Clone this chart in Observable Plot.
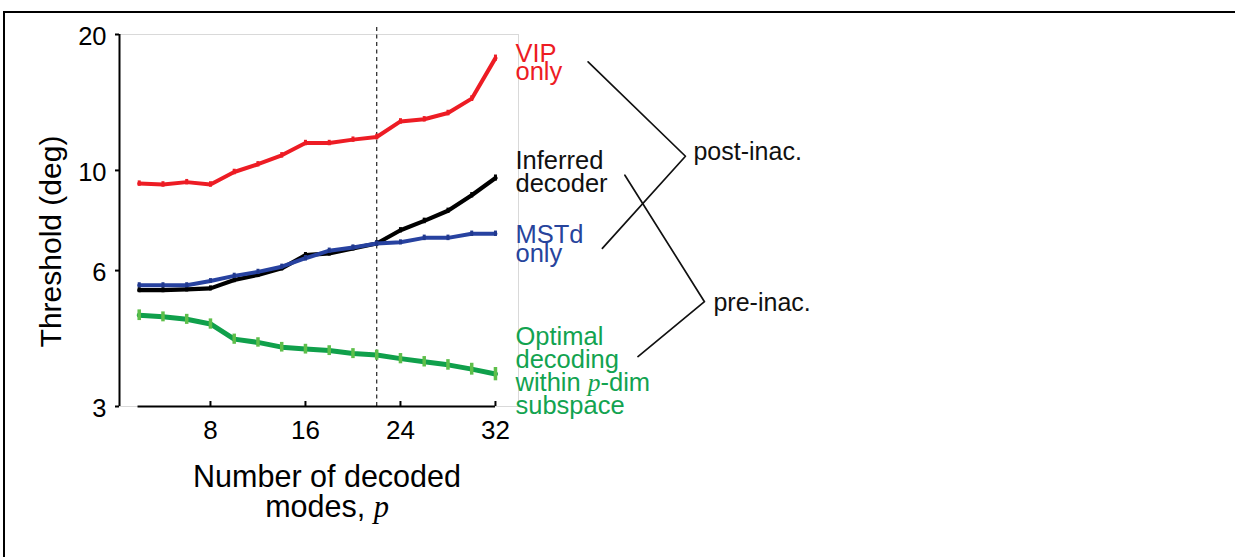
<!DOCTYPE html>
<html>
<head>
<meta charset="utf-8">
<script src="https://cdn.jsdelivr.net/npm/d3@7"></script>
<script src="https://cdn.jsdelivr.net/npm/@observablehq/plot@0.6"></script>
<style>
  html, body { margin: 0; padding: 0; background: #fff; overflow: hidden; }
  #page { position: relative; width: 1235px; height: 557px; }
  #chart { position: absolute; left: 0; top: 0; }
  #border {
    position: absolute; left: 3px; top: 11px; width: 1300px; height: 600px;
    border-top: 2px solid #000; border-left: 2px solid #000; pointer-events: none;
  }
</style>
</head>
<body>
<div id="page"><div id="chart"></div><div id="border"></div></div>
<script>
// Number of decoded modes p
const modes = [2, 4, 6, 8, 10, 12, 14, 16, 18, 20, 22, 24, 26, 28, 30, 32];

// Discrimination thresholds (deg), one value per p
const vipOnly  = [9.35, 9.31, 9.42, 9.31, 9.92, 10.32, 10.80, 11.50, 11.50, 11.70, 11.86, 12.84, 12.98, 13.40, 14.42, 17.73];
const inferred = [5.43, 5.43, 5.45, 5.48, 5.72, 5.87, 6.07, 6.49, 6.55, 6.72, 6.89, 7.37, 7.73, 8.14, 8.81, 9.62];
const mstdOnly = [5.57, 5.57, 5.57, 5.69, 5.84, 5.96, 6.12, 6.39, 6.64, 6.75, 6.89, 6.93, 7.09, 7.09, 7.24, 7.24];
const optimal  = [4.78, 4.74, 4.68, 4.57, 4.23, 4.16, 4.06, 4.02, 3.99, 3.93, 3.90, 3.83, 3.77, 3.71, 3.63, 3.54];

// Half-widths of the error bars (deg)
const vipErr      = [0.13, 0.13, 0.13, 0.13, 0.14, 0.14, 0.15, 0.16, 0.16, 0.16, 0.17, 0.18, 0.18, 0.19, 0.21, 0.28];
const inferredErr = [0.07, 0.07, 0.07, 0.07, 0.08, 0.08, 0.08, 0.09, 0.09, 0.09, 0.10, 0.10, 0.11, 0.11, 0.12, 0.15];
const mstdErr     = [0.07, 0.07, 0.07, 0.07, 0.08, 0.08, 0.08, 0.09, 0.09, 0.09, 0.09, 0.09, 0.10, 0.10, 0.10, 0.10];
const optimalErr  = [0.13, 0.12, 0.12, 0.12, 0.11, 0.10, 0.10, 0.10, 0.10, 0.10, 0.10, 0.10, 0.10, 0.10, 0.11, 0.12];

// Series labels
const names = ["VIP\nonly", "Inferred\ndecoder", "MSTd\nonly", "Optimal\ndecoding\nwithin p-dim\nsubspace"];

// Axis ticks and limits
const xTicks = [8, 16, 24, 32];
const yTicks = [3, 6, 10, 20];
const xLim = [0.34, 33.94];
const yLim = [3, 20];
const inactivationBoundary = 22;

// Bracket annotations grouping the conditions (p, deg)
const postBracket = [{p: 39.8, v: 17.4}, {p: 48.0, v: 10.75}, {p: 41.0, v: 6.72}];
const preBracket  = [{p: 42.9, v: 9.76}, {p: 49.6, v: 5.12}, {p: 44.0, v: 3.87}];

const rows = (values, errs) => modes.map((p, i) => ({p, v: values[i], lo: values[i] - errs[i], hi: values[i] + errs[i]}));
const lastOf = (values, label) => [{p: modes[modes.length - 1], v: values[values.length - 1], label}];

const RED = "#ed1c24", BLACK = "#000000", BLUE = "#2742a0", GREEN = "#10a04b", LIGHTGREEN = "#5ebf4a";
const SANS = "'Liberation Sans', Arial, Helvetica, sans-serif";

const vip = rows(vipOnly, vipErr);
const inf = rows(inferred, inferredErr);
const mst = rows(mstdOnly, mstdErr);
const opt = rows(optimal, optimalErr);

const chart = Plot.plot({
  width: 1235,
  height: 557,
  marginLeft: 119,
  marginRight: 717,
  marginTop: 34,
  marginBottom: 151,
  style: {fontFamily: SANS, background: "transparent", color: "#000", overflow: "visible"},
  x: {type: "linear", domain: xLim, label: null},
  y: {type: "log", domain: yLim, label: null},
  marks: [
    Plot.frame({stroke: "#d9d9d9", strokeWidth: 1}),
    Plot.ruleX([inactivationBoundary], {y1: 3, y2: 20.8, stroke: "#222", strokeWidth: 1.2, strokeDasharray: "4,3.5"}),

    // axes
    Plot.ruleX([xLim[0]], {y1: yLim[0], y2: yLim[1], stroke: "#000", strokeWidth: 2}),
    Plot.ruleY([yLim[0]], {x1: 1.9, x2: 32, stroke: "#000", strokeWidth: 2}),
    Plot.ruleX(xTicks, {y1: yLim[0], y2: yLim[0], insetTop: -5, stroke: "#000", strokeWidth: 2}),
    Plot.axisY({ticks: yTicks, tickSize: 4, strokeWidth: 2, tickFormat: () => "", label: null}),
    Plot.axisY({ticks: yTicks, tickSize: 0, tickPadding: 13, dy: 2, fontSize: 25.5, tickFormat: (d) => String(d), label: null}),
    Plot.axisX({ticks: xTicks, tickSize: 0, tickPadding: 14, fontSize: 26, tickFormat: (d) => String(d), label: null}),
    Plot.text(["Threshold (deg)"], {text: (d) => d, frameAnchor: "left", rotate: -90, dx: -68, dy: 21, fontSize: 30, textAnchor: "middle"}),
    Plot.text(["Number of decoded\nmodes, p"], {text: (d) => d, frameAnchor: "bottom", lineAnchor: "bottom", lineHeight: 1, dx: 8, dy: 110.7, fontSize: 30.5, textAnchor: "middle"}),

    // series
    Plot.line(vip, {x: "p", y: "v", stroke: RED, strokeWidth: 4, strokeLinejoin: "round"}),
    Plot.ruleX(vip, {x: "p", y1: "lo", y2: "hi", stroke: RED, strokeWidth: 3}),
    Plot.line(inf, {x: "p", y: "v", stroke: BLACK, strokeWidth: 4.2, strokeLinejoin: "round"}),
    Plot.ruleX(inf, {x: "p", y1: "lo", y2: "hi", stroke: BLACK, strokeWidth: 3}),
    Plot.line(mst, {x: "p", y: "v", stroke: BLUE, strokeWidth: 4, strokeLinejoin: "round"}),
    Plot.ruleX(mst, {x: "p", y1: "lo", y2: "hi", stroke: "#21398f", strokeWidth: 3}),
    Plot.line(opt, {x: "p", y: "v", stroke: GREEN, strokeWidth: 5, strokeLinejoin: "round"}),
    Plot.ruleX(opt, {x: "p", y1: "lo", y2: "hi", stroke: LIGHTGREEN, strokeWidth: 3.5}),

    // series labels at the line ends
    Plot.text(lastOf(vipOnly, names[0]), {x: "p", y: "v", text: "label", fill: RED, fontSize: 25.5, lineAnchor: "bottom", lineHeight: 0.72, textAnchor: "start", dx: 20, dy: 22}),
    Plot.text(lastOf(inferred, names[1]), {x: "p", y: "v", text: "label", fill: "#111", fontSize: 25.5, lineAnchor: "bottom", lineHeight: 0.9, textAnchor: "start", dx: 20, dy: 13.5}),
    Plot.text(lastOf(mstdOnly, names[2]), {x: "p", y: "v", text: "label", fill: "#27449c", fontSize: 25.5, lineAnchor: "bottom", lineHeight: 0.72, textAnchor: "start", dx: 20, dy: 28}),
    Plot.text(lastOf(optimal, names[3]), {x: "p", y: "v", text: "label", fill: "#12a350", fontSize: 25.5, lineAnchor: "bottom", lineHeight: 0.9, textAnchor: "start", dx: 20, dy: 39.5}),

    // condition brackets
    Plot.line(postBracket, {x: "p", y: "v", stroke: "#111", strokeWidth: 1.7}),
    Plot.line(preBracket, {x: "p", y: "v", stroke: "#111", strokeWidth: 1.7}),
    Plot.text([postBracket[1]], {x: "p", y: "v", text: () => "post-inac.", fontSize: 25, textAnchor: "start", dx: 8, dy: -4, fill: "#111"}),
    Plot.text([preBracket[1]], {x: "p", y: "v", text: () => "pre-inac.", fontSize: 25, textAnchor: "start", dx: 9, dy: 1, fill: "#111"})
  ]
});

// Set the variable name p in italic serif type
function italicVariable(root, line) {
  d3.select(root).selectAll("text, tspan")
    .filter(function () { return this.childElementCount === 0 && this.textContent === line; })
    .each(function () {
      const parts = line.split(/\bp\b/);
      this.textContent = "";
      parts.forEach((part, i) => {
        if (part) this.appendChild(document.createTextNode(part));
        if (i < parts.length - 1) {
          d3.select(this).append("tspan")
            .attr("font-family", "'Liberation Serif', 'Times New Roman', serif")
            .attr("font-style", "italic")
            .text("p");
        }
      });
    });
}
italicVariable(chart, "within p-dim");
italicVariable(chart, "modes, p");

document.getElementById("chart").appendChild(chart);
</script>
</body>
</html>
